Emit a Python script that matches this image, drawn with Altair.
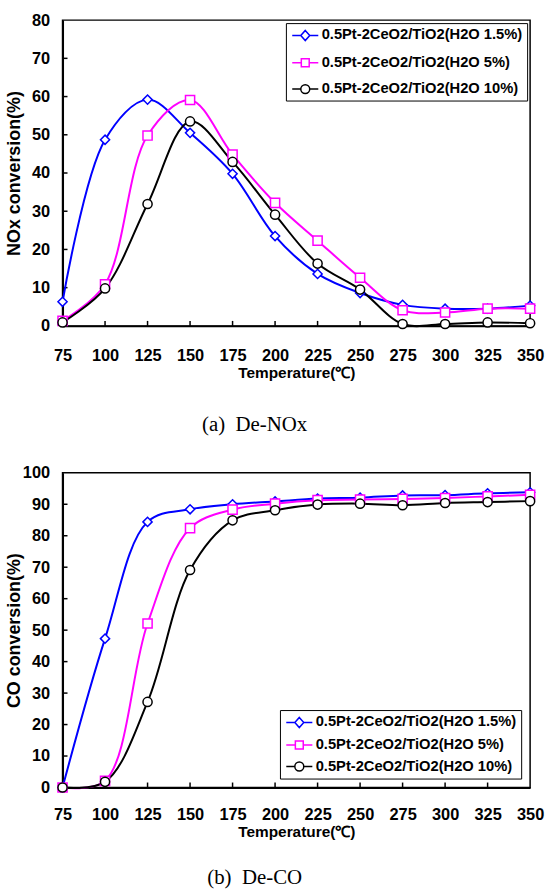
import altair as alt
import pandas as pd

temps = [75, 100, 125, 150, 175, 200, 225, 250, 275, 300, 325, 350]
series_names = [
    "0.5Pt-2CeO2/TiO2(H2O 1.5%)",
    "0.5Pt-2CeO2/TiO2(H2O 5%)",
    "0.5Pt-2CeO2/TiO2(H2O 10%)",
]
series_colors = ["#0000ff", "#ff00ff", "#000000"]
series_shapes = ["diamond", "square", "circle"]

nox_h2o_1_5 = [6.3, 48.7, 59.2, 50.5, 39.8, 23.5, 13.6, 8.6, 5.5, 4.5, 4.5, 5.3]
nox_h2o_5 = [1.3, 10.9, 49.8, 59.1, 44.8, 32.2, 22.3, 12.6, 4.1, 3.5, 4.5, 4.5]
nox_h2o_10 = [0.9, 9.8, 31.9, 53.5, 42.9, 29.1, 16.3, 9.5, 0.5, 0.5, 0.9, 0.7]

co_h2o_1_5 = [0.0, 47.3, 84.4, 88.4, 90.0, 90.9, 91.8, 92.1, 92.8, 92.9, 93.5, 93.8]
co_h2o_5 = [0.0, 2.1, 52.1, 82.4, 88.3, 90.2, 91.3, 91.5, 91.7, 92.0, 92.5, 93.0]
co_h2o_10 = [0.0, 1.8, 27.2, 69.1, 84.9, 88.1, 89.9, 90.2, 89.7, 90.4, 90.7, 91.0]

nox_ticks = [0, 10, 20, 30, 40, 50, 60, 70, 80]
co_ticks = [0, 10, 20, 30, 40, 50, 60, 70, 80, 90, 100]


def long_df(series_values):
    rows = []
    for name, vals in zip(series_names, series_values):
        for t, v in zip(temps, vals):
            rows.append({"temp": t, "value": v, "series": name})
    return pd.DataFrame(rows)


nox_df = long_df([nox_h2o_1_5, nox_h2o_5, nox_h2o_10])
co_df = long_df([co_h2o_1_5, co_h2o_5, co_h2o_10])

# legend symbols: a line segment with the marker in the middle (unit coords)
legend_paths = [
    "M-1.75,0H-0.6M0.6,0H1.75M0,-0.68L0.6,0L0,0.68L-0.6,0Z",
    "M-1.75,0H-0.53M0.53,0H1.75M-0.53,-0.53H0.53V0.53H-0.53Z",
    "M-1.75,0H-0.6M0.6,0H1.75M0.6,0A0.6,0.6 0 1,1 -0.6,0A0.6,0.6 0 1,1 0.6,0Z",
]

FONT = "Liberation Sans"
W = 471


def panel(df, ymax, yticks, ytitle, H, legend_orient, legend_offset, row_pad,
          leg_pad, label_offset, symbol_offset, label_pad, caption,
          caption_offset):
    xscale = alt.Scale(domain=[75, 350], nice=False, zero=False)
    yscale = alt.Scale(domain=[0, ymax], nice=False)
    xaxis = alt.Axis(values=temps, ticks=False, labelPadding=label_pad,
                     titlePadding=2, grid=False, labelFontSize=16.5,
                     titleFontSize=15.5, domainWidth=2, labelFlush=False,
                     labelOverlap=False, labelBound=False)
    yaxis = alt.Axis(values=yticks, ticks=False, labelPadding=13, grid=False,
                     titleX=-39, labelFontSize=16.5, titleFontSize=18,
                     domainWidth=2, labelFlush=False, labelOverlap=False)

    def X(field):
        return alt.X(field, type="quantitative", scale=xscale, axis=xaxis,
                     title="Temperature(\u2103)")

    def Y(field):
        return alt.Y(field, type="quantitative", scale=yscale, axis=yaxis,
                     title=ytitle)

    cscale = alt.Scale(domain=series_names, range=series_colors)
    lscale = alt.Scale(domain=series_names, range=legend_paths)
    leg = alt.Legend(
        title=None, orient=legend_orient, offset=legend_offset,
        padding=leg_pad, strokeColor="black", fillColor="white",
        labelFont=FONT, labelFontSize=14.8, labelFontWeight="bold",
        labelColor="black", symbolSize=225, labelOffset=label_offset,
        symbolOffset=symbol_offset, rowPadding=row_pad, labelLimit=0,
        symbolFillColor="white", symbolStrokeWidth=1.5, symbolOpacity=1,
    )

    def C():
        return alt.Color("series:N", scale=cscale, legend=leg)

    lines = alt.Chart(df).mark_line(
        interpolate="catmull-rom", strokeWidth=2
    ).encode(x=X("temp"), y=Y("value"), color=C())
    marker_layers = []
    for name, shp in zip(series_names, series_shapes):
        marker_layers.append(
            alt.Chart(df).transform_filter(
                alt.datum.series == name
            ).mark_point(
                filled=False, fill="white", size=85, strokeWidth=1.5,
                opacity=1, shape=shp,
            ).encode(x=X("temp"), y=Y("value"), color=C())
        )
    legend_layer = alt.Chart(df).transform_filter("false").mark_point(
        filled=False, fill="white", strokeWidth=1.5, opacity=1
    ).encode(
        x=X("temp"), y=Y("value"), color=C(),
        shape=alt.Shape("series:N", scale=lscale, legend=leg),
    )
    xt = alt.Chart(pd.DataFrame({"temp": temps[1:-1]})).mark_rule(
        color="black", strokeWidth=1.5
    ).encode(x=X("temp"), y=alt.value(H), y2=alt.value(H - 5))
    yt = alt.Chart(pd.DataFrame({"value": yticks[1:-1]})).mark_rule(
        color="black", strokeWidth=1.5
    ).encode(y=Y("value"), x=alt.value(0), x2=alt.value(5))

    return alt.layer(xt, yt, lines, *marker_layers, legend_layer).properties(
        width=W, height=H,
        title=alt.TitleParams(
            text=caption, orient="bottom", font="Liberation Serif",
            fontSize=21, fontWeight="normal", color="black",
            anchor="middle", frame="group", dx=-42, offset=caption_offset,
        ),
    )


top = panel(nox_df, 80, nox_ticks, "NOx conversion(%)", 308, "top-right", 3,
            10.5, 4, 8, 7, 22, "(a)\u00a0\u00a0De-NOx", 33)
bottom = panel(co_df, 100, co_ticks, "CO conversion(%)", 317, "bottom-right",
               9, 5.7, 4, 8, 7, 19, "(b)\u00a0\u00a0De-CO", 27)

chart = alt.vconcat(top, bottom, spacing=28).properties(
    padding={"left": 5, "top": 8, "right": 0, "bottom": 0},
    background="white",
).configure_view(
    stroke="black", strokeWidth=1.5
).configure_axis(
    labelFont=FONT, titleFont=FONT, labelFontWeight="bold",
    titleFontWeight="bold", labelColor="black", titleColor="black",
    domainColor="black",
)

chart.save("out.html", embed_options={"renderer": "svg", "actions": False})
